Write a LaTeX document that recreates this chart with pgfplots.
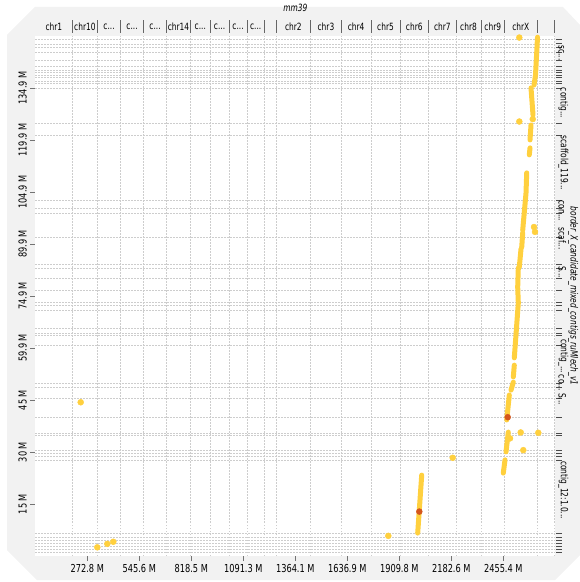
\documentclass[border=0pt]{standalone}
\usepackage{pgfplots}
\pgfplotsset{compat=1.18}
\usepackage{fontspec}
\setmainfont{DejaVu Sans}[FakeStretch=0.75]
\definecolor{dotyel}{RGB}{255,208,62}
\definecolor{dotorg}{RGB}{212,86,28}
\definecolor{bggrey}{RGB}{242,242,242}
\definecolor{gridc}{RGB}{205,205,205}
\newcommand{\lab}{\fontsize{11}{13}\selectfont}
\begin{document}
\begin{tikzpicture}[x=1bp,y=1bp]
\useasboundingbox (-35.3,-26) rectangle (544.7,556);
\fill[bggrey] (-0.3,549) -- (527.7,549) -- (544.7,531) -- (544.7,1) -- (519.7,-24) -- (1.7,-24) -- (-28.3,6) -- (-28.3,521) -- cycle;
\begin{axis}[
  width=520bp, height=520bp, scale only axis,
  xmin=0, xmax=2728.26, ymin=0, ymax=149.85,
  clip=false,
  axis line style={draw=none},
  axis background/.style={fill=white},
  xtick={272.826,545.652,818.478,1091.304,1364.13,1636.956,1909.782,2182.608,2455.434},
  xticklabels={272.8 M,545.6 M,818.5 M,1091.3 M,1364.1 M,1636.9 M,1909.8 M,2182.6 M,2455.4 M},
  ytick={14.985,29.97,44.955,59.94,74.925,89.91,104.895,119.88,134.865},
  yticklabels={15 M,30 M,45 M,59.9 M,74.9 M,89.9 M,104.9 M,119.9 M,134.9 M},
  xtick pos=left, ytick pos=left,
  tick align=outside,
  major tick length=5bp,
  tick style={draw=black!55, line width=0.6bp},
  xticklabel style={font=\lab},
  yticklabel style={font=\lab, rotate=90, anchor=south},
]
% chromosome boundaries (vertical grid) and top separators
\pgfplotsinvokeforeach{195.15,325.68,447.65,567.74,688.62,813.76,917.83,1015.84,1111.13,1201.85,1263.27,1445.03,1604.78,1761.64,1913.40,2062.99,2207.98,2338.11,2462.47,2631.95,2723.41}{
  \draw[gridc, line width=0.5bp, dash pattern=on 1.5bp off 1.5bp] (axis cs:#1,0) -- (axis cs:#1,149.85);
  \draw[black!60, line width=0.6bp] (axis cs:#1,149.85) ++(0bp,3bp) -- ++(0bp,13bp);
}
% query contig boundaries (horizontal grid) and right separators
\pgfplotsinvokeforeach{149.0,147.6,146.7,145.2,142.9,141.2,140.0,139.5,138.6,138.0,136.9,136.3,134.9,124.8,121.3,102.6,100.3,98.8,91.9,84.1,82.9,80.1,76.7,73.2,72.3,70.9,65.7,64.3,63.7,60.8,49.9,48.7,45.5,40.1,35.4,34.9,30.5,29.7,28.8,27.7,6.6,5.5,4.6,3.7,2.9,2.0,1.2}{
  \draw[gridc, line width=0.5bp, dash pattern=on 1.5bp off 1.5bp] (axis cs:0,#1) -- (axis cs:2728.26,#1);
  \draw[black!70, line width=0.6bp] (axis cs:2728.26,#1) ++(1bp,0bp) -- ++(6bp,0bp);
}
% chromosome names
\pgfplotsset{every node/.append style={font=\lab}}
\node[yshift=9bp] at (axis cs:97.6,149.85) {chr1};
\node[yshift=9bp] at (axis cs:260.4,149.85) {chr10};
\node[yshift=9bp] at (axis cs:386.7,149.85) {c...};
\node[yshift=9bp] at (axis cs:507.7,149.85) {c...};
\node[yshift=9bp] at (axis cs:628.2,149.85) {c...};
\node[yshift=9bp] at (axis cs:751.2,149.85) {chr14};
\node[yshift=9bp] at (axis cs:865.8,149.85) {c...};
\node[yshift=9bp] at (axis cs:966.8,149.85) {c...};
\node[yshift=9bp] at (axis cs:1063.5,149.85) {c...};
\node[yshift=9bp] at (axis cs:1156.5,149.85) {c...};
\node[yshift=9bp] at (axis cs:1354.2,149.85) {chr2};
\node[yshift=9bp] at (axis cs:1524.9,149.85) {chr3};
\node[yshift=9bp] at (axis cs:1683.2,149.85) {chr4};
\node[yshift=9bp] at (axis cs:1837.5,149.85) {chr5};
\node[yshift=9bp] at (axis cs:1988.2,149.85) {chr6};
\node[yshift=9bp] at (axis cs:2135.5,149.85) {chr7};
\node[yshift=9bp] at (axis cs:2273.0,149.85) {chr8};
\node[yshift=9bp] at (axis cs:2400.3,149.85) {chr9};
\node[yshift=9bp] at (axis cs:2547.2,149.85) {chrX};
\node[yshift=28bp] at (axis cs:1364.13,149.85) {\itshape mm39};
% contig names on the right
\node[xshift=3bp, rotate=-90, anchor=south, inner sep=0pt] at (axis cs:2728.26,145.0) {sc...};
\node[xshift=3bp, rotate=-90, anchor=south, inner sep=0pt] at (axis cs:2728.26,130.5) {contig...};
\node[xshift=3bp, rotate=-90, anchor=south, inner sep=0pt] at (axis cs:2728.26,113.3) {scaffold\_119...};
\node[xshift=3bp, rotate=-90, anchor=south, inner sep=0pt] at (axis cs:2728.26,99.4) {con...};
\node[xshift=3bp, rotate=-90, anchor=south, inner sep=0pt] at (axis cs:2728.26,91.4) {scaf...};
\node[xshift=3bp, rotate=-90, anchor=south, inner sep=0pt] at (axis cs:2728.26,81.8) {S...};
\node[xshift=3bp, rotate=-90, anchor=south, inner sep=0pt] at (axis cs:2728.26,57.6) {contig\_...};
\node[xshift=3bp, rotate=-90, anchor=south, inner sep=0pt] at (axis cs:2728.26,49.9) {co...};
\node[xshift=3bp, rotate=-90, anchor=south, inner sep=0pt] at (axis cs:2728.26,45.2) {S...};
\node[xshift=3bp, rotate=-90, anchor=south, inner sep=0pt] at (axis cs:2728.26,19.0) {contig\_12:1.0...};
\node[xshift=18bp, rotate=-90] at (axis cs:2728.26,74.9) {\itshape border\_X\_candidate\_mixed\_contigs\_ruMlech\_v1};
% alignments
\addplot[dotyel, line width=5bp, line cap=round] coordinates {(2027.3,23.3) (2006.3,6.6)};
\addplot[dotyel, line width=5bp, line cap=round] coordinates {(2634.9,149.5) (2624.4,138.6) (2616.5,135.7)};
\addplot[dotyel, line width=5bp, line cap=round] coordinates {(2600.7,134.9) (2611.2,127.1)};
\addplot[dotyel, line width=5bp, line cap=round] coordinates {(2600.7,124.2) (2595.5,119.9)};
\addplot[dotyel, line width=5bp, line cap=round] coordinates {(2595.5,117.6) (2591.8,115.6)};
\addplot[dotyel, line width=5bp, line cap=round] coordinates {(2578.2,110.4) (2574.5,104.6) (2557.2,93.9)};
\addplot[dotyel, line width=5bp, line cap=round] coordinates {(2557.2,93.1) (2552.0,89.0)};
\addplot[dotyel, line width=5bp, line cap=round] coordinates {(2548.3,88.5) (2539.4,83.3)};
\addplot[dotyel, line width=5bp, line cap=round] coordinates {(2534.1,83.0) (2530.9,77.5) (2534.1,72.9) (2513.1,57.1)};
\addplot[dotyel, line width=5bp, line cap=round] coordinates {(2513.1,55.0) (2507.9,51.6)};
\addplot[dotyel, line width=5bp, line cap=round] coordinates {(2507.9,50.1) (2495.8,47.8)};
\addplot[dotyel, line width=5bp, line cap=round] coordinates {(2486.9,46.4) (2473.3,39.2)};
\addplot[dotyel, line width=5bp, line cap=round] coordinates {(2481.6,35.7) (2469.6,30.0)};
\addplot[dotyel, line width=5bp, line cap=round] coordinates {(2464.3,27.7) (2455.4,23.9)};
\addplot[dotyel, only marks, mark=*, mark size=3bp, mark options={draw=none, fill=dotyel}] table {
x y
238.2 44.3
325.3 2.5
377.8 3.5
409.2 4.1
1852 5.8
2189.9 28.3
2539.4 149.4
2539.4 125.2
2609.7 125.9
2616.5 94.8
2621.7 93.4
2490.6 33.9
2546.7 35.6
2639.0 35.5
2560.3 30.5
};
\addplot[dotorg, only marks, mark=*, mark size=3bp, mark options={draw=none, fill=dotorg}] table {
x y
2014.7 12.8
2478.5 40.0
};
\end{axis}
\end{tikzpicture}
\end{document}
